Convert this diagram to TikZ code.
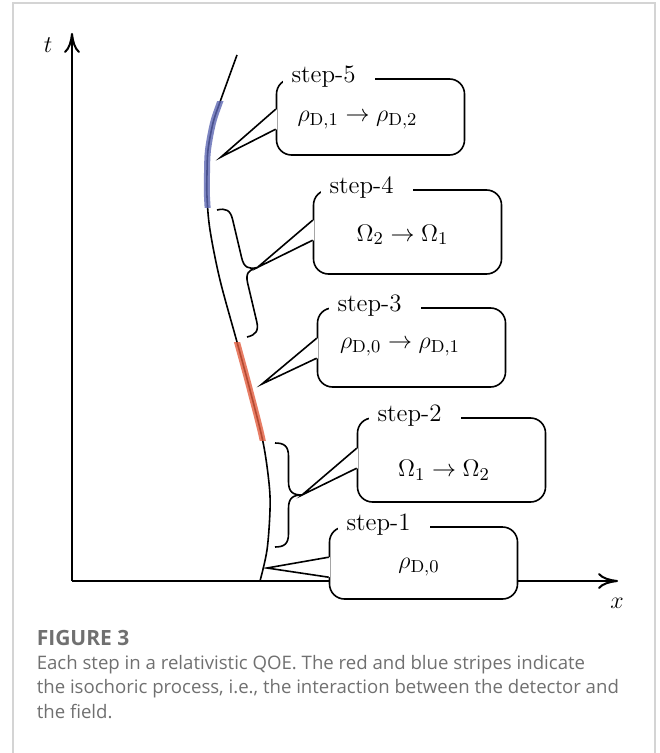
\documentclass[tikz,border=0pt]{standalone}
\usepackage{fontspec}
\newfontfamily\capfont{Open Sans}
\usetikzlibrary{arrows.meta,calc}
\definecolor{stripered}{RGB}{226,92,62}
\definecolor{stripeblue}{RGB}{92,102,178}
\definecolor{capgray}{RGB}{112,112,112}
\definecolor{framegray}{RGB}{212,212,212}
\tikzset{
  stepbox/.style={draw,fill=white,rounded corners=7.5pt,minimum width=94pt,inner sep=0pt},
  steptitle/.style={fill=white,inner xsep=4.5pt,inner ysep=1pt,anchor=base west},
  stripe/.style={line width=3pt,opacity=.8},
  captext/.style={anchor=base west,inner sep=0pt,text=capgray,font=\capfont\fontsize{9.3}{11}\selectfont},
  % brace along local y, #1 = length, #2 = amplitude
  pics/curlybrace/.style n args={2}{code={
    \draw (0,0) .. controls (0.35*#2,0) and (0.5*#2,0.12*#2) .. (0.5*#2,0.5*#2)
      -- (0.5*#2,0.5*#1-0.5*#2) .. controls (0.5*#2,0.5*#1-0.12*#2) and (0.65*#2,0.5*#1) .. (#2,0.5*#1)
      .. controls (0.65*#2,0.5*#1) and (0.5*#2,0.5*#1+0.12*#2) .. (0.5*#2,0.5*#1+0.5*#2)
      -- (0.5*#2,#1-0.5*#2) .. controls (0.5*#2,#1-0.12*#2) and (0.35*#2,#1) .. (0,#1);
    \coordinate (-tip) at (#2,0.5*#1);
  }},
}
\begin{document}
\begin{tikzpicture}[x=0.5pt,y=-0.5pt,font=\fontsize{12.5}{15}\selectfont,line width=0.8pt]
\useasboundingbox (0,0) rectangle (659,753);
\draw[framegray,line width=0.75pt] (13,753) -- (13,3) -- (655,3) -- (655,753);
% axes
\coordinate (O) at (72,581);
\coordinate (T) at (72,33);
\coordinate (X) at (618,581);
\draw[line width=1pt,-{To[length=10pt,width=8pt]}] (O) -- (T);
\draw[line width=1pt,-{To[length=10pt,width=8pt]}] (O) -- (X);
\node (tl) at (48,45) {$t$};
\node (xl) at (617,603) {$x$};
% world line of the detector
\def\worldline{plot[smooth,tension=.55] coordinates {(260,581) (267,550) (270,510) (269,483) (263,442)
  (250,390) (237,342) (220,280) (210,230) (207,197) (207,173) (208,150) (213,123) (220,102) (237,55)}}
\draw \worldline;
\begin{scope}
  \clip (150,342) rectangle (300,440);
  \draw[stripe,stripered] \worldline;
\end{scope}
\begin{scope}
  \clip (150,102) rectangle (300,208);
  \draw[stripe,stripeblue] \worldline;
\end{scope}
% braces
\coordinate (a1) at (217,210);
\coordinate (b1) at (275,443);
\pic[rotate=13.3] (ba) at (a1) {curlybrace={130.5}{26}};
\pic (bb) at (b1) {curlybrace={104}{27}};
% pointer tips
\coordinate (p5) at (221,157);
\coordinate (p4) at (ba-tip);
\coordinate (p3) at (262,384);
\coordinate (p2) at (bb-tip);
\coordinate (p1) at (267,568);
% boxes
\foreach \n/\x/\y/\h/\tx/\dx/\dy/\txt in {%
 5/370.5/117/38/15/-13/3/{$\rho_{\mathrm{D},1}\to\rho_{\mathrm{D},2}$},
 4/407.5/232/42/16/-5/3/{$\Omega_2\to\Omega_1$},
 3/411.5/347.5/39.5/20/-11.5/-0.5/{$\rho_{\mathrm{D},0}\to\rho_{\mathrm{D},1}$},
 2/451.5/460/42/20/-7.5/10/{$\Omega_1\to\Omega_2$},
 1/423.5/563/36/17/-4.5/4/{$\rho_{\mathrm{D},0}$}}{
  \node[stepbox,minimum height=\h pt] (s\n) at (\x,\y) {};
  \coordinate (u\n) at ([yshift=-15.5pt]s\n.north west);
  \coordinate (l\n) at ([yshift=-25.5pt]s\n.north west);
  \fill[white] ([xshift=.6pt]u\n) -- (p\n) -- ([xshift=.6pt]l\n) -- cycle;
  \draw (u\n) -- (p\n) -- (l\n);
  \node[steptitle] (t\n) at ([xshift=\tx*0.5pt-4.5pt,yshift=-2pt]s\n.north west) {step-\n\kern5pt};
  \node (c\n) at ($(s\n)+(\dx,\dy)$) {\txt};
}
% caption
\node[captext,font=\capfont\bfseries\fontsize{10.5}{12}\selectfont] (fig) at (36,645) {FIGURE 3};
\foreach \i/\yy/\l in {1/669/{Each step in a relativistic QOE. The red and blue stripes indicate},
 2/693.5/{the isochoric process, i.e., the interaction between the detector and},
 3/718/{the field.}}
  \node[captext] (cap\i) at (36,\yy) {\l};
\end{tikzpicture}
\end{document}
